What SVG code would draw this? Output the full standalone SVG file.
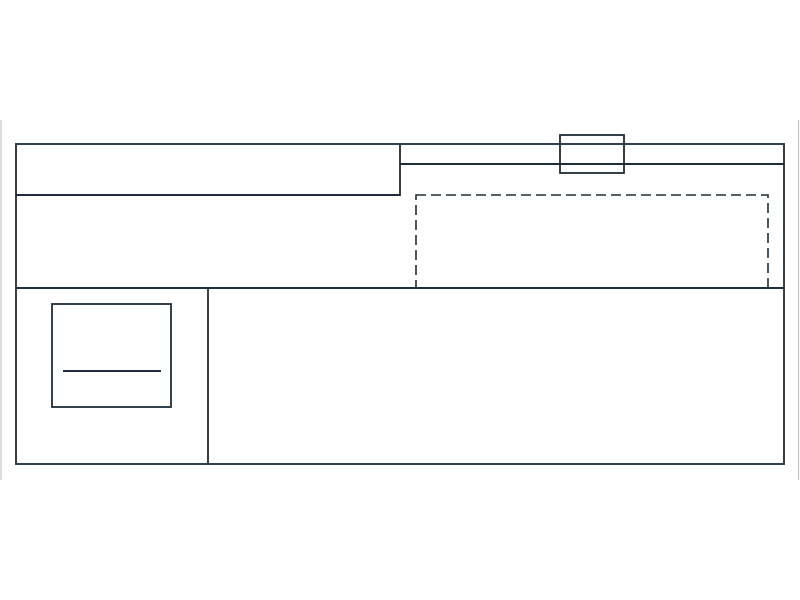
<svg xmlns="http://www.w3.org/2000/svg" width="800" height="600" viewBox="0 0 800 600">
  <style>
    .w { fill: none; stroke: #1f2e3a; stroke-width: 1.8; }
    .d { fill: none; stroke: #1f2e3a; stroke-width: 1.6; stroke-dasharray: 10 5; }
    .edge { stroke: #c4c4c4; stroke-width: 1.2; }
  </style>
  <rect width="800" height="600" fill="#ffffff"/>
  <line class="edge" x1="1" y1="120" x2="1" y2="480"/>
  <line class="edge" x1="798.5" y1="120" x2="798.5" y2="480"/>
  <g id="plan">
    <rect class="w" x="16" y="144" width="768" height="320"/>
    <polyline class="w" points="16,195 400,195 400,144"/>
    <line class="w" x1="400" y1="164" x2="784" y2="164"/>
    <rect class="w" x="560" y="135" width="64" height="38"/>
    <rect class="d" x="416" y="195" width="352" height="93"/>
    <line class="w" x1="16" y1="288" x2="784" y2="288"/>
    <line class="w" x1="208" y1="288" x2="208" y2="464"/>
    <rect class="w" x="52" y="304" width="119" height="103"/>
    <line class="w" x1="63" y1="371" x2="161" y2="371"/>
  </g>
</svg>
